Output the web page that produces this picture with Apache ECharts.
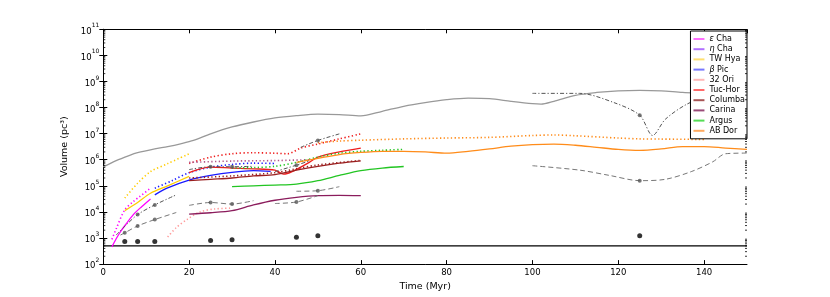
<!DOCTYPE html>
<html><head><meta charset="utf-8">
<script src="https://cdn.jsdelivr.net/npm/echarts@6/dist/echarts.min.js"></script>
<style>html,body{margin:0;padding:0;background:#fff}#c{width:830px;height:297px}</style>
</head><body><div id="c"></div>
<script>
// ---- data (time in Myr, volume in pc^3) ----
const xTickValues = [0, 20, 40, 60, 80, 100, 120, 140];
const yTickExponents = [2, 3, 4, 5, 6, 7, 8, 9, 10, 11];
const groupNames = ['ε Cha', 'η Cha', 'TW Hya', 'β Pic', '32 Ori', 'Tuc-Hor', 'Columba', 'Carina', 'Argus', 'AB Dor'];

const envelope = [[0,5.25e5],[3,9.3e5],[6,1.45e6],[8,1.86e6],[12,2.6e6],[15,3.2e6],[18,4.1e6],[21,5.5e6],[25,9.8e6],[30,1.8e7],[35,2.8e7],[40,4.0e7],[45,4.9e7],[50,5.6e7],[55,5.4e7],[60,4.8e7],[65,7.2e7],[70,1.12e8],[75,1.55e8],[80,2.0e8],[85,2.3e8],[90,2.2e8],[95,1.74e8],[100,1.41e8],[102,1.35e8],[105,1.74e8],[110,2.95e8],[115,3.8e8],[120,4.4e8],[125,4.6e8],[130,4.4e8],[135,3.8e8],[140,3.5e8],[145,3.2e8],[150,2.8e8]];
const threshold = 500;

const eChaSolid = [[2,457],[3,933],[4,1740],[5,2950],[7,7900],[9,1.62e4],[11,3.16e4]];
const eChaDotted = [[2,890],[3,2240],[5,1.2e4],[7,2.5e4],[8.5,3.9e4],[11,8.1e4]];
const etaCha = [];
const twHyaSolid = [[5,1.12e4],[8,2.3e4],[11,5.2e4],[15,1.0e5],[20,2.3e5]];
const twHyaDotted = [[5,3.4e4],[8,1.26e5],[11,3.5e5],[15,7.1e5],[20,1.7e6]];
const bPicSolid = [[12,4.5e4],[15,8.3e4],[20,1.66e5],[25,2.5e5],[30,3.3e5],[35,3.8e5],[39,3.6e5]];
const bPicDotted = [[12,8.1e4],[16,1.58e5],[20,3.2e5],[25,5.2e5],[30,6.6e5],[35,7.4e5],[40,7.2e5]];
const ori32Dotted = [[15,1.1e3],[17,2.5e3],[19.5,5.1e3],[22.5,1.0e4],[26,1.3e4],[30,1.4e4]];
const tucHorSolid = [[20,3.2e5],[25,5.2e5],[30,4.8e5],[35,4.5e5],[40,4.0e5],[42,2.8e5],[44,3.5e5],[48,7.9e5],[50,1.26e6],[55,2.0e6],[60,2.8e6]];
const tucHorDotted = [[20,7.2e5],[25,1.26e6],[30,1.7e6],[35,1.86e6],[40,1.78e6],[43,1.7e6],[46,2.8e6],[50,4.0e6],[55,6.3e6],[60,9.8e6]];
const columbaSolid = [[20,1.58e5],[25,1.78e5],[30,2.0e5],[35,2.4e5],[40,2.7e5],[45,4.0e5],[50,5.6e5],[55,7.4e5],[60,9.1e5]];
const columbaDotted = [[20,2.0e5],[30,2.4e5],[40,3.2e5],[45,4.5e5],[50,6.3e5],[60,9.5e5]];
const carinaSolid = [[20,8.3e3],[25,9.3e3],[30,1.12e4],[35,1.86e4],[40,2.8e4],[45,3.6e4],[50,4.2e4],[55,4.3e4],[60,4.2e4]];
const carinaDotted = [[20,7.9e5],[30,8.9e5],[40,9.3e5],[48,1.0e6]];
const argusSolid = [[30,9.3e4],[35,1.0e5],[40,1.07e5],[45,1.17e5],[50,1.58e5],[55,2.5e5],[60,3.8e5],[65,4.8e5],[70,5.5e5]];
const argusDotted = [[30,4.8e5],[35,5.0e5],[40,5.6e5],[45,7.9e5],[50,1.26e6],[55,1.78e6],[60,2.1e6],[65,2.3e6],[70,2.5e6]];
const abDorSolid = [[45,7.9e5],[50,1.12e6],[55,1.58e6],[60,1.9e6],[65,2.1e6],[70,2.1e6],[75,2.0e6],[80,1.78e6],[85,2.1e6],[90,2.6e6],[95,3.3e6],[100,3.8e6],[105,4.0e6],[110,3.6e6],[115,3.0e6],[120,2.5e6],[125,2.3e6],[130,2.6e6],[135,3.2e6],[140,3.2e6],[145,2.8e6],[150,2.5e6]];
const abDorDotted = [[50,4.5e6],[55,5.2e6],[60,5.6e6],[70,6.3e6],[80,6.8e6],[90,7.2e6],[100,8.5e6],[105,8.9e6],[110,8.3e6],[120,6.8e6],[125,6.3e6],[130,6.2e6],[140,6.0e6]];

const grayUpYoung = [[3,1.3e3],[5,2.8e3],[8,7.9e3],[12,1.86e4],[17,4.5e4]];
const grayLoYoung = [[4,1.3e3],[5,1.58e3],[8,2.9e3],[12,5.1e3],[17,9.5e3]];
const grayUp25 = [[20,4.2e5],[25,5.4e5],[30,5.4e5],[35,5.6e5]];
const grayLo25 = [[20,1.78e4],[25,2.3e4],[30,2.0e4],[35,2.7e4]];
const grayUp45 = [[40,3.5e5],[45,6.2e5],[48,9.0e5]];
const grayLo45 = [[40,2.1e4],[45,2.4e4],[50,4.2e4]];
const grayUp50 = [[46,3.0e6],[50,5.5e6],[55,9.8e6]];
const grayLo50 = [[45,6.2e4],[50,6.5e4],[55,9.3e4]];
const grayUp125 = [[100,3.5e8],[111,3.5e8],[119,1.55e8],[125,5.1e7],[128,8.5e6],[131,3.6e7],[136,1.35e8],[142,3.2e8],[150,4.5e8]];
const grayLo125 = [[100,5.9e5],[111,4.0e5],[118,2.5e5],[125,1.58e5],[131,1.78e5],[137,3.5e5],[142,8.3e5],[145,1.7e6],[150,1.8e6]];
const grayDots = [[8,7.9e3],[12,1.86e4],[25,5.4e5],[30,5.4e5],[45,6.2e5],[50,5.5e6],[125,5.1e7],
                  [5,1.58e3],[8,2.9e3],[12,5.1e3],[25,2.3e4],[30,2.0e4],[45,2.4e4],[50,6.5e4],[125,1.58e5]];
const ages = [5, 8, 12, 25, 30, 45, 50, 125];
const ageVolumes = [741, 741, 741, 794, 851, 1070, 1230, 1230];

// minor tick positions of the log axis (2..9 x 10^n)
const minorTickValues = [];
for (const e of yTickExponents.slice(0, -1)) for (let k = 2; k <= 9; k++) minorTickValues.push(k * Math.pow(10, e));

// ---- styles ----
const colors = {'ε Cha':'#ff00ff','η Cha':'#9b30ff','TW Hya':'#ffcc00','β Pic':'#1a1aff','32 Ori':'#ff9a9a',
  'Tuc-Hor':'#ee1c1c','Columba':'#9a1f1f','Carina':'#8b1c5c','Argus':'#22c522','AB Dor':'#ff8c1a'};
const legendColors = {'ε Cha':'#ff70ff','η Cha':'#b070ff','TW Hya':'#ffe070','β Pic':'#7777ff','32 Ori':'#ffb8b8',
  'Tuc-Hor':'#ff6a6a','Columba':'#a85555','Carina':'#9a4a78','Argus':'#55dd55','AB Dor':'#ffaa60'};
const FONT = 'DejaVu Sans';

function ln(name, data, color, kind, z) {
  const ls = {color: color, width: 1.3, type: 'solid'};
  if (kind === 'dot') { ls.type = [1.3, 2.4]; ls.width = 1.6; }
  if (kind === 'dash') { ls.type = [5, 3]; ls.width = 1; }
  if (kind === 'dashdot') { ls.type = [4, 2, 1.2, 2]; ls.width = 1; }
  return {type: 'line', name: name, data: data, symbol: 'none', showSymbol: false, smooth: 0.3,
    lineStyle: ls, itemStyle: {color: color}, z: z || 3, silent: true, xAxisIndex: 0, yAxisIndex: 0};
}

const series = [
  ln('envelope', envelope, '#999999', 'solid', 2),
  ln('threshold', [[0, threshold], [150, threshold]], '#000000', 'solid', 2),
  ln('ε Cha', eChaSolid, colors['ε Cha']),
  ln('ε Cha dotted', eChaDotted, colors['ε Cha'], 'dot'),
  ln('η Cha', etaCha, colors['η Cha']),
  ln('TW Hya', twHyaSolid, colors['TW Hya']),
  ln('TW Hya dotted', twHyaDotted, colors['TW Hya'], 'dot'),
  ln('β Pic', bPicSolid, colors['β Pic']),
  ln('β Pic dotted', bPicDotted, colors['β Pic'], 'dot'),
  ln('32 Ori', ori32Dotted, colors['32 Ori'], 'dot'),
  ln('Tuc-Hor', tucHorSolid, colors['Tuc-Hor']),
  ln('Tuc-Hor dotted', tucHorDotted, colors['Tuc-Hor'], 'dot'),
  ln('Columba', columbaSolid, colors['Columba']),
  ln('Columba dotted', columbaDotted, colors['Columba'], 'dot'),
  ln('Carina', carinaSolid, colors['Carina']),
  ln('Carina dotted', carinaDotted, '#b0568a', 'dot'),
  ln('Argus', argusSolid, colors['Argus']),
  ln('Argus dotted', argusDotted, colors['Argus'], 'dot'),
  ln('AB Dor', abDorSolid, colors['AB Dor']),
  ln('AB Dor dotted', abDorDotted, colors['AB Dor'], 'dot'),
  ln('gu1', grayUpYoung, '#555555', 'dashdot'), ln('gl1', grayLoYoung, '#777777', 'dash'),
  ln('gu2', grayUp25, '#555555', 'dashdot'), ln('gl2', grayLo25, '#777777', 'dash'),
  ln('gu3', grayUp45, '#555555', 'dashdot'), ln('gl3', grayLo45, '#777777', 'dash'),
  ln('gu4', grayUp50, '#555555', 'dashdot'), ln('gl4', grayLo50, '#777777', 'dash'),
  ln('gu5', grayUp125, '#555555', 'dashdot'), ln('gl5', grayLo125, '#777777', 'dash'),
  {type: 'scatter', name: 'grayDots', data: grayDots, symbolSize: 4, itemStyle: {color: '#555555'}, z: 4, silent: true},
  {type: 'scatter', name: 'ages', data: ages.map((a, i) => [a, ageVolumes[i]]), symbolSize: 5, itemStyle: {color: '#000000'}, z: 4, silent: true},
  {type: 'custom', name: 'minorTicks', silent: true, clip: false, z: 5,
   data: minorTickValues.map(v => [0, v]), encode: {x: 0, y: 1},
   renderItem: (params, api) => {
     const v = api.value(1);
     const p0 = api.coord([0, v]);
     const p1 = api.coord([150, v]);
     const st = {stroke: '#000', lineWidth: 0.8};
     return {type: 'group', children: [
       {type: 'line', shape: {x1: p0[0], y1: p0[1], x2: p0[0] + 2, y2: p0[1]}, style: st},
       {type: 'line', shape: {x1: p1[0] - 2, y1: p1[1], x2: p1[0], y2: p1[1]}, style: st}
     ]};
   }}
];

const tickCommon = {show: true, inside: true, length: 4, lineStyle: {color: '#000', width: 1}};

const option = {
  animation: false,
  backgroundColor: '#ffffff',
  grid: {left: 103.3, right: 83, top: 29.3, bottom: 30.3},
  xAxis: [
    {type: 'value', min: 0, max: 150, interval: 20, position: 'bottom',
     name: 'Time (Myr)', nameLocation: 'middle', nameGap: 13,
     nameTextStyle: {fontFamily: FONT, fontSize: 9.5, color: '#000'},
     axisLine: {lineStyle: {color: '#000', width: 1}}, axisTick: tickCommon,
     axisLabel: {fontFamily: FONT, fontSize: 8.5, color: '#000', margin: 4, showMaxLabel: false},
     splitLine: {show: false}},
    {type: 'value', min: 0, max: 150, interval: 20, position: 'top',
     axisLine: {lineStyle: {color: '#000', width: 1}}, axisTick: tickCommon,
     axisLabel: {show: false}, splitLine: {show: false}}
  ],
  yAxis: [
    {type: 'log', logBase: 10, min: 100, max: 1e11, interval: 1, position: 'left',
     name: 'Volume (pc³)', nameLocation: 'middle', nameGap: 32, nameRotate: 90,
     nameTextStyle: {fontFamily: FONT, fontSize: 9.5, color: '#000'},
     axisLine: {lineStyle: {color: '#000', width: 1}}, axisTick: tickCommon,
     axisLabel: {margin: 4, color: '#000',
       formatter: v => '{n|10}{s|' + Math.round(Math.log10(v)) + '}',
       rich: {n: {fontFamily: FONT, fontSize: 8.5, color: '#000', lineHeight: 13, verticalAlign: 'bottom'},
              s: {fontFamily: FONT, fontSize: 6, color: '#000', lineHeight: 13, verticalAlign: 'top'}}},
     splitLine: {show: false}},
    {type: 'log', logBase: 10, min: 100, max: 1e11, interval: 1, position: 'right',
     axisLine: {lineStyle: {color: '#000', width: 1}}, axisTick: tickCommon,
     axisLabel: {show: false}, splitLine: {show: false}}
  ],
  legend: {
    show: true, orient: 'vertical', right: 83, top: 31,
    backgroundColor: '#fff', borderColor: '#000', borderWidth: 1, borderRadius: 0,
    padding: [3, 2, 3, 3], itemGap: 0.2, itemWidth: 11, itemHeight: 2, itemTextGap: 6,
    icon: 'rect',
    data: groupNames.map(n => ({name: n, itemStyle: {color: legendColors[n]}})),
    formatter: n => n.replace(/^([εηβ])/, '{i|$1}'),
    textStyle: {fontFamily: FONT, fontSize: 8, color: '#000', lineHeight: 10,
      rich: {i: {fontFamily: FONT, fontStyle: 'italic', fontSize: 8, color: '#000', lineHeight: 10}}}
  },
  series: series
};

const chart = echarts.init(document.getElementById('c'), null, {renderer: 'canvas'});
chart.setOption(option);
</script>
</body></html>
